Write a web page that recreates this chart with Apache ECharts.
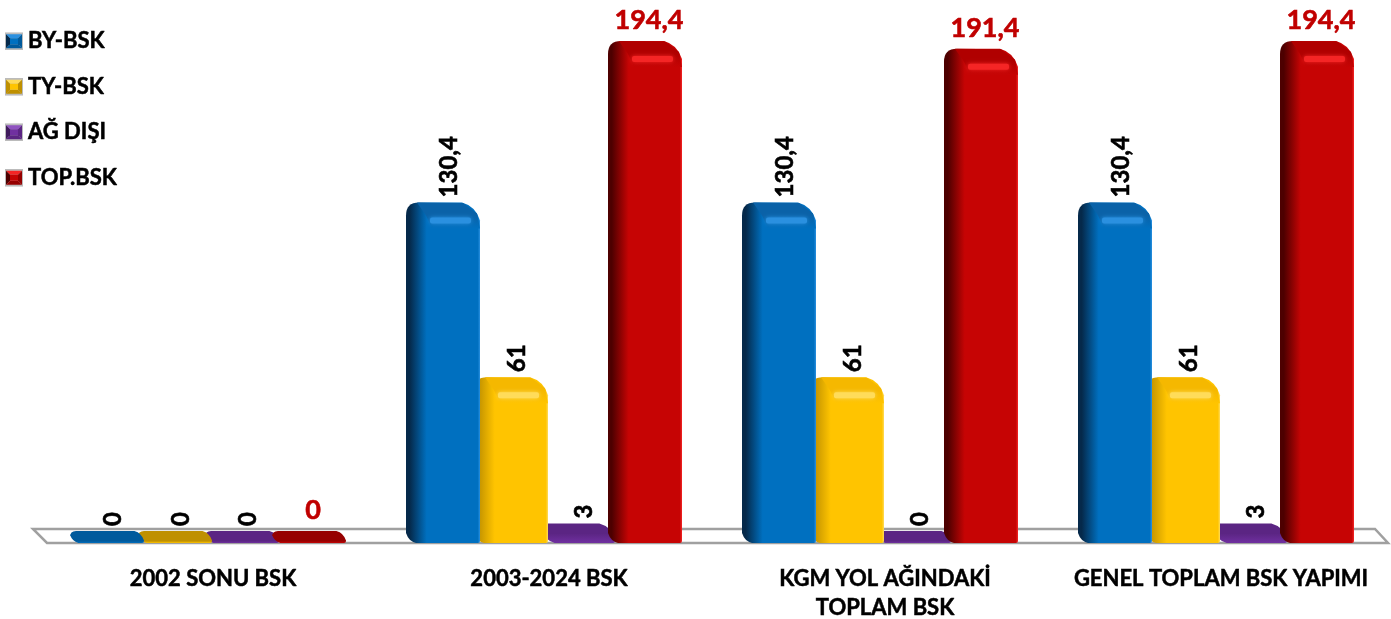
<!DOCTYPE html>
<html>
<head>
<meta charset="utf-8">
<style>
  html, body { margin: 0; padding: 0; background: #fff; }
  #main { width: 1391px; height: 619px; }
</style>
<script src="https://cdn.jsdelivr.net/npm/echarts@6/dist/echarts.min.js"></script>
</head>
<body>
<div id="main"></div>
<script>
// veriler
var categories = ['2002 SONU BSK', '2003-2024 BSK', 'KGM YOL AĞINDAKİ\nTOPLAM BSK', 'GENEL TOPLAM BSK YAPIMI'];
var seriesNames = ['BY-BSK', 'TY-BSK', 'AĞ DIŞI', 'TOP.BSK'];
var byBsk = [0, 130.4, 130.4, 130.4];
var tyBsk = [0, 61, 61, 61];
var agDisi = [0, 3, 0, 3];
var topBsk = [0, 194.4, 191.4, 194.4];

var FONT = 'Lato, "Noto Sans", sans-serif';
var BAR_W = 74;
var BOTTOM = 543; // kabartmalı sütunların ön alt kenarı

var looks = [
  { face: '#0070c0', side: '#05294a', cap: '#005a9c', band: '#0a62a8', glow: '#2a90e0', off: -143, z: 4 },
  { face: '#ffc400', side: '#bf9000', cap: '#bf9000', band: '#f5b800', glow: '#ffdc5a', off: -75, z: 3 },
  { face: '#7030a0', side: '#3f1a5c', cap: '#5b2583', band: '#5b2583', glow: '#8f52c0', off: -8, z: 2 },
  { face: '#c60404', side: '#4d0000', cap: '#960000', band: '#b00000', glow: '#f52525', off: 59, z: 5 }
];

echarts.graphic.registerShape('bevelBar', echarts.graphic.extendShape({
  shape: { x0: 0, x1: 0, top: 0, bot: 0, rt: 0, cr: 0, cb: 0 },
  buildPath: function (ctx, s) {
    ctx.moveTo(s.x0 + s.rt, s.top);
    ctx.lineTo(s.x1 - s.cr, s.top);
    ctx.quadraticCurveTo(s.x1 - s.cr * 0.25, s.top + s.cr * 0.2, s.x1, s.top + s.cr);
    ctx.lineTo(s.x1, s.bot - 2);
    ctx.quadraticCurveTo(s.x1, s.bot, s.x1 - 2, s.bot);
    ctx.lineTo(s.x0 + s.cb, s.bot);
    ctx.quadraticCurveTo(s.x0 + s.cb * 0.25, s.bot - s.cb * 0.2, s.x0, s.bot - s.cb);
    ctx.lineTo(s.x0, s.top + s.rt);
    ctx.quadraticCurveTo(s.x0, s.top, s.x0 + s.rt, s.top);
    ctx.closePath();
  }
}));

function vGrad(stops) {
  return new echarts.graphic.LinearGradient(0, 0, 0, 1, stops);
}

function renderBar(look, idx) {
  return function (params, api) {
    var v = api.value(1);
    var p = api.coord([api.value(0), v]);
    var x0 = p[0] + look.off;
    var x1 = x0 + BAR_W;
    var top = p[1];
    var h = BOTTOM - top;
    var children = [];
    var flat = h < 30;
    var shape = {
      x0: x0, x1: x1, top: top, bot: BOTTOM,
      rt: flat ? Math.min(6, h * 0.5) : 13,
      cr: flat ? h * 0.8 : 18,
      cb: flat ? h * 0.7 : 10
    };
    var fill;
    if (flat) {
      fill = vGrad([
        { offset: 0, color: look.cap },
        { offset: Math.min(0.85, 10 / h), color: look.cap },
        { offset: 1, color: look.face }
      ]);
    } else {
      fill = new echarts.graphic.LinearGradient(0, 0, 1, 0, [
        { offset: 0, color: look.side },
        { offset: 0.05, color: look.side },
        { offset: 0.28, color: look.face },
        { offset: 0.97, color: look.face },
        { offset: 1, color: look.glow }
      ]);
    }
    children.push({ type: 'bevelBar', shape: shape, style: { fill: fill } });
    if (!flat) {
      // üst kenardaki pah ve parlama
      children.push({
        type: 'polygon',
        shape: { points: [[x0 + 11, top], [x1 - 17, top + 0.5], [x1 - 3, top + 11], [x1, top + 26], [x0 + 26, top + 26], [x0 + 20, top + 13]] },
        style: { fill: vGrad([
          { offset: 0, color: look.band },
          { offset: 0.5, color: look.band },
          { offset: 1, color: look.face }
        ]) }
      });
      children.push({
        type: 'rect',
        shape: { x: x0 + 24, y: top + 15, width: BAR_W - 33, height: 6, r: 2 },
        style: { fill: look.glow, shadowBlur: 4, shadowColor: look.glow }
      });
    }
    var text = String(v).replace('.', ',');
    if (idx === 3) {
      children.push({
        type: 'text',
        style: {
          x: x0 + BAR_W / 2 + 4, y: top - 7, text: text, fill: '#c00000',
          stroke: '#c00000', lineWidth: 0.6,
          font: 'bold 27px ' + FONT, align: 'center', verticalAlign: 'bottom'
        }
      });
    } else {
      children.push({
        type: 'text',
        x: x0 + BAR_W / 2 + 6, y: top - 5, rotation: Math.PI / 2,
        style: {
          x: 0, y: 0, text: text, fill: '#000',
          stroke: '#000', lineWidth: 0.6,
          font: 'bold 24px ' + FONT, align: 'left', verticalAlign: 'middle'
        }
      });
    }
    return { type: 'group', children: children };
  };
}

function legendIcon(look) {
  var svg = '<svg xmlns="http://www.w3.org/2000/svg" width="18" height="18">' +
    '<rect width="18" height="18" fill="#bbb"/>' +
    '<polygon points="1,2 17,2 13,6 5,6" fill="' + look.glow + '"/>' +
    '<polygon points="1,2 5,6 5,12 1,16" fill="' + look.side + '"/>' +
    '<polygon points="1,16 5,12 13,12 17,16" fill="' + look.cap + '"/>' +
    '<polygon points="17,2 13,6 13,12 17,16" fill="' + look.cap + '"/>' +
    '<rect x="5" y="6" width="8" height="6" fill="' + look.face + '"/></svg>';
  return 'image://data:image/svg+xml;charset=utf-8,' + encodeURIComponent(svg);
}

var valueSets = [byBsk, tyBsk, agDisi, topBsk];

var chart = echarts.init(document.getElementById('main'));

var option = {
  animation: false,
  backgroundColor: '#fff',
  legend: {
    orient: 'vertical',
    left: 0,
    top: 25,
    itemWidth: 18,
    itemHeight: 18,
    itemGap: 23,
    textStyle: {
      fontFamily: FONT, fontWeight: 'bold', fontSize: 22, color: '#000',
      textBorderColor: '#000', textBorderWidth: 0.5
    },
    data: seriesNames.map(function (n, i) { return { name: n, icon: legendIcon(looks[i]) }; })
  },
  grid: { left: 45, width: 1344, top: 27, height: 504, outerBoundsMode: 'none' },
  xAxis: {
    type: 'category',
    data: categories,
    axisLine: { show: false },
    axisTick: { show: false },
    axisLabel: {
      interval: 0, margin: 33, color: '#000',
      fontFamily: FONT, fontWeight: 'bold', fontSize: 22, lineHeight: 29,
      textBorderColor: '#000', textBorderWidth: 0.5
    }
  },
  yAxis: { type: 'value', min: 0, max: 200, show: false },
  graphic: [{
    type: 'polygon',
    z: -1,
    shape: { points: [[33, 529], [1375, 529], [1388, 543], [47, 543]] },
    style: { fill: '#fff', stroke: '#a0a0a0', lineWidth: 2.5 }
  }],
  series: seriesNames.map(function (n, i) {
    return {
      name: n,
      type: 'custom',
      z: looks[i].z,
      clip: false,
      itemStyle: { color: looks[i].face },
      encode: { x: 0, y: 1 },
      data: valueSets[i].map(function (v, k) { return [k, v]; }),
      renderItem: renderBar(looks[i], i)
    };
  })
};

chart.setOption(option);
</script>
</body>
</html>
